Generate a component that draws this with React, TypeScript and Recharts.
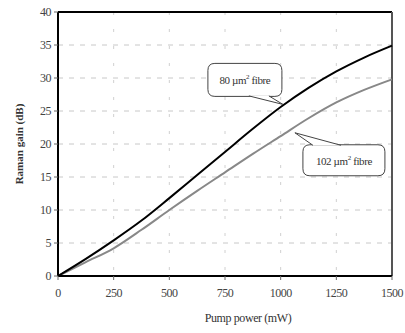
import {
  LineChart,
  Line,
  XAxis,
  YAxis,
  CartesianGrid,
  ReferenceLine,
  ReferenceDot,
  Label,
} from "recharts"

// pump power (mW)
const power = [0, 125, 250, 375, 500, 625, 750, 875, 1000, 1125, 1250, 1375, 1500]
// Raman gain (dB) for both fibres
const gain80 = [0, 2.6, 5.4, 8.4, 11.8, 15.3, 18.8, 22.3, 25.6, 28.5, 31, 33.1, 34.9]
const gain102 = [0, 2.1, 4.2, 7.0, 10.0, 12.9, 15.7, 18.5, 21.2, 23.9, 26.3, 28.2, 29.8]

const xTicks = [0, 250, 500, 750, 1000, 1250, 1500]
const yTicks = [0, 5, 10, 15, 20, 25, 30, 35, 40]

const data = power.map((p, i) => ({ power: p, g80: gain80[i], g102: gain102[i] }))

const FONT = "'Liberation Serif', 'Times New Roman', serif"

const boxPath = (x0: number, y0: number, w: number, h: number, r: number) =>
  `M${x0 + r},${y0} H${x0 + w - r} Q${x0 + w},${y0} ${x0 + w},${y0 + r} V${y0 + h - r} Q${x0 + w},${y0 + h} ${x0 + w - r},${y0 + h} H${x0 + r} Q${x0},${y0 + h} ${x0},${y0 + h - r} V${y0 + r} Q${x0},${y0} ${x0 + r},${y0} Z`

// callout anchored at the curve, box drawn above-left of it
function Callout80(props: any) {
  const { cx, cy } = props
  const x0 = cx - 75
  const y0 = cy - 41
  const w = 74
  const h = 33
  return (
    <g>
      <path d={boxPath(x0, y0, w, h, 7)} fill="#fff" stroke="#444" strokeWidth={1} />
      <path d={`M${cx - 34},${y0 + h - 0.5} L${cx},${cy} L${cx - 14},${y0 + h - 0.5}`} fill="#fff" stroke="#444" strokeWidth={1} />
      <text x={x0 + w / 2} y={y0 + h / 2 + 4} textAnchor="middle" fontFamily={FONT} fontSize={11} letterSpacing={-0.4} fill="#333">
        80 µm<tspan dy={-5} fontSize={7}>2</tspan>
        <tspan dy={5}> fibre</tspan>
      </text>
    </g>
  )
}

// callout anchored at the curve, box drawn below-right of it
function Callout102(props: any) {
  const { cx, cy } = props
  const x0 = cx + 8
  const y0 = cy + 12
  const w = 82
  const h = 31
  return (
    <g>
      <path d={boxPath(x0, y0, w, h, 7)} fill="#fff" stroke="#444" strokeWidth={1} />
      <path d={`M${x0 + 10},${y0 + 0.5} L${cx},${cy} L${x0 + 38},${y0 + 0.5}`} fill="#fff" stroke="#444" strokeWidth={1} />
      <text x={x0 + w / 2} y={y0 + h / 2 + 5} textAnchor="middle" fontFamily={FONT} fontSize={11} letterSpacing={-0.4} fill="#333">
        102 µm<tspan dy={-5} fontSize={7}>2</tspan>
        <tspan dy={5}> fibre</tspan>
      </text>
    </g>
  )
}

const tickStyle = { fontFamily: FONT, fontSize: 12, fill: "#444", letterSpacing: -0.5 }

export default function App() {
  return (
    <div style={{ position: "absolute", left: 0, top: 0, background: "#fff" }}>
      <LineChart width={405} height={333} data={data} margin={{ top: 12, right: 13, bottom: 27, left: 0 }}>
        <CartesianGrid stroke="#c8c8c8" strokeDasharray="5 6" vertical={false} />
        <CartesianGrid stroke="#d0d0d0" strokeDasharray="3 14" horizontal={false} />
        <XAxis
          dataKey="power"
          type="number"
          domain={[0, 1500]}
          ticks={xTicks}
          height={30}
          axisLine={{ stroke: "#000", strokeWidth: 2 }}
          tickLine={{ stroke: "#666" }}
          tickSize={4}
          tick={tickStyle}
          tickMargin={8}
        >
          <Label value="Pump power (mW)" position="insideBottom" offset={-16} dx={23} fontFamily={FONT} fontSize={12} letterSpacing={-0.4} fill="#333" />
        </XAxis>
        <YAxis
          type="number"
          domain={[0, 40]}
          ticks={yTicks}
          width={58}
          axisLine={{ stroke: "#000", strokeWidth: 2 }}
          tickLine={{ stroke: "#666" }}
          tickSize={4}
          tick={tickStyle}
          tickMargin={3}
        >
          <Label
            value="Raman gain (dB)"
            angle={-90}
            position="insideLeft"
            dx={14}
            fontFamily={FONT}
            fontSize={11}
            fontWeight="bold"
            fill="#333"
            style={{ textAnchor: "middle" }}
          />
        </YAxis>
        <ReferenceLine y={40} stroke="#000" strokeWidth={2} />
        <ReferenceLine x={1500} stroke="#555" strokeWidth={2} />
        <Line type="monotone" dataKey="g102" stroke="#888" strokeWidth={2} dot={false} isAnimationActive={false} />
        <Line type="monotone" dataKey="g80" stroke="#000" strokeWidth={2} dot={false} isAnimationActive={false} />
        <ReferenceDot x={1010} y={26} shape={<Callout80 />} />
        <ReferenceDot x={1064} y={21.7} shape={<Callout102 />} />
      </LineChart>
    </div>
  )
}
